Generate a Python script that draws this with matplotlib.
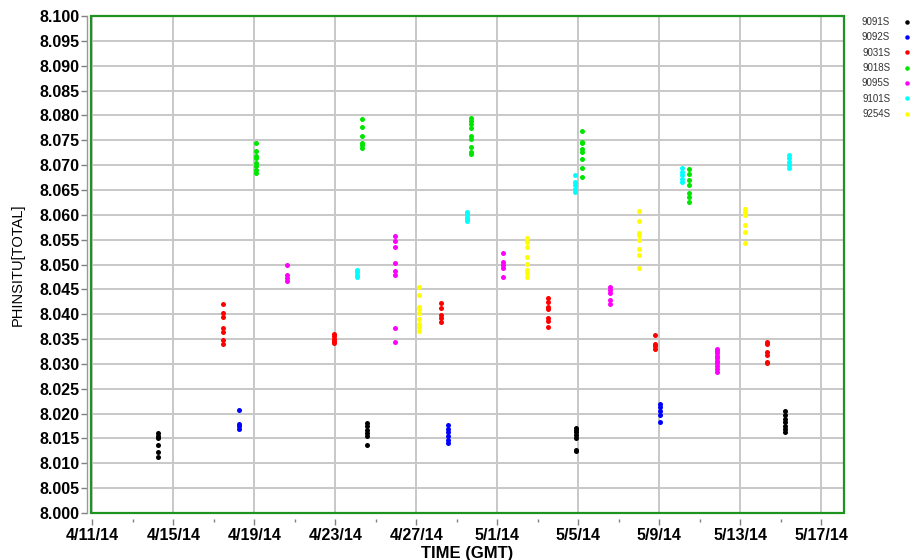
import numpy as np
import matplotlib
matplotlib.use("Agg")
import matplotlib.pyplot as plt
import matplotlib.dates as mdates
from matplotlib.patches import Rectangle
from matplotlib.ticker import FuncFormatter, MultipleLocator

# ── Data (one time per sampling visit) ────────────────────────────────

stations = ["9091S", "9092S", "9031S", "9018S", "9095S", "9101S", "9254S"]
colours  = ["#000000", "#0000ff", "#ff0000", "#00e600",
            "#ff00ff", "#00ffff", "#ffff00"]

t_9091S = ["2014-04-14T06:00", "2014-04-24T14:00",
           "2014-05-04T21:00", "2014-05-15T05:00"]
v_9091S = [[8.0160, 8.0155, 8.0150, 8.0137, 8.0123, 8.0112],
           [8.0182, 8.0175, 8.0168, 8.0162, 8.0155, 8.0137],
           [8.0172, 8.0167, 8.0164, 8.0157, 8.0150, 8.0127, 8.0124],
           [8.0206, 8.0197, 8.0190, 8.0183, 8.0176, 8.0170, 8.0164]]

t_9092S = ["2014-04-18T06:00", "2014-04-28T14:00", "2014-05-09T01:00"]
v_9092S = [[8.0207, 8.0180, 8.0175, 8.0170],
           [8.0177, 8.0170, 8.0164, 8.0155, 8.0147, 8.0140],
           [8.0219, 8.0213, 8.0206, 8.0197, 8.0184]]

t_9031S = ["2014-04-17T11:00", "2014-04-22T22:00", "2014-04-28T05:00",
           "2014-05-03T12:00", "2014-05-08T19:00", "2014-05-14T08:00"]
v_9031S = [[8.0420, 8.0403, 8.0395, 8.0372, 8.0365, 8.0348, 8.0341],
           [8.0361, 8.0356, 8.0351, 8.0346, 8.0342],
           [8.0422, 8.0412, 8.0398, 8.0392, 8.0385],
           [8.0432, 8.0425, 8.0415, 8.0410, 8.0392, 8.0386, 8.0375],
           [8.0358, 8.0341, 8.0336, 8.0330],
           [8.0345, 8.0341, 8.0323, 8.0318, 8.0304, 8.0301]]

t_9018S = ["2014-04-19T02:00", "2014-04-24T08:00", "2014-04-29T17:00",
           "2014-05-05T04:00", "2014-05-10T11:30"]
v_9018S = [[8.0744, 8.0729, 8.0718, 8.0714, 8.0704, 8.0698, 8.0690, 8.0684],
           [8.0792, 8.0776, 8.0759, 8.0745, 8.0740, 8.0734],
           [8.0794, 8.0789, 8.0783, 8.0774, 8.0759, 8.0752, 8.0737,
            8.0727, 8.0722],
           [8.0769, 8.0747, 8.0744, 8.0732, 8.0726, 8.0712, 8.0695, 8.0677],
           [8.0692, 8.0682, 8.0670, 8.0660, 8.0643, 8.0636, 8.0626]]

t_9095S = ["2014-04-20T15:00", "2014-04-25T23:00", "2014-05-01T06:30",
           "2014-05-06T13:30", "2014-05-11T21:00"]
v_9095S = [[8.0500, 8.0479, 8.0472, 8.0467],
           [8.0558, 8.0547, 8.0536, 8.0504, 8.0486, 8.0479, 8.0373, 8.0345],
           [8.0523, 8.0506, 8.0499, 8.0492, 8.0474],
           [8.0454, 8.0449, 8.0442, 8.0429, 8.0421],
           [8.0331, 8.0326, 8.0321, 8.0316, 8.0311, 8.0306, 8.0301,
            8.0296, 8.0290, 8.0284]]

t_9101S = ["2014-04-24T02:00", "2014-04-29T12:00", "2014-05-04T20:00",
           "2014-05-10T03:30", "2014-05-15T10:00"]
v_9101S = [[8.0489, 8.0484, 8.0479, 8.0475],
           [8.0606, 8.0601, 8.0596, 8.0591, 8.0588],
           [8.0680, 8.0667, 8.0660, 8.0652, 8.0645],
           [8.0695, 8.0687, 8.0680, 8.0673, 8.0666],
           [8.0720, 8.0714, 8.0707, 8.0700, 8.0694]]

t_9254S = ["2014-04-27T03:30", "2014-05-02T11:30",
           "2014-05-08T00:00", "2014-05-13T05:30"]
v_9254S = [[8.0455, 8.0439, 8.0415, 8.0410, 8.0402, 8.0390, 8.0380,
            8.0375, 8.0366],
           [8.0553, 8.0546, 8.0536, 8.0516, 8.0501, 8.0489, 8.0482, 8.0475],
           [8.0608, 8.0588, 8.0564, 8.0559, 8.0549, 8.0531, 8.0519, 8.0492],
           [8.0612, 8.0605, 8.0600, 8.0580, 8.0565, 8.0544]]

times  = [t_9091S, t_9092S, t_9031S, t_9018S, t_9095S, t_9101S, t_9254S]
values = [v_9091S, v_9092S, v_9031S, v_9018S, v_9095S, v_9101S, v_9254S]

# ── Figure ────────────────────────────────────────────────────────────

TICK_FONT = "Liberation Sans"
FRAME_GREEN = "#1f931f"
GRID_GREY = "#c8c8c8"

fig = plt.figure(figsize=(9.11, 5.60), dpi=100)
ax = fig.add_axes([0.0996, 0.0839, 0.8272, 0.8875])

for name, col, tt, vv in zip(stations, colours, times, values):
    xs, ys = [], []
    for t, vals in zip(tt, vv):
        xs += [np.datetime64(t)] * len(vals)
        ys += vals
    ax.plot(np.array(xs, dtype="datetime64[m]"), ys, "o", color=col,
            markersize=3.6, markeredgewidth=0, label=name, zorder=3)

# axes range and ticks
x0 = np.datetime64("2014-04-11T00:00")
ax.set_xlim(x0 - np.timedelta64(115, "m"), x0 + np.timedelta64(53480, "m"))
ax.set_ylim(8.000, 8.100)

ax.set_xticks(np.arange(x0, x0 + np.timedelta64(37, "D"),
                        np.timedelta64(4, "D")))
ax.set_xticks(np.arange(x0 + np.timedelta64(2, "D"),
                        x0 + np.timedelta64(37, "D"),
                        np.timedelta64(4, "D")), minor=True)
ax.xaxis.set_major_formatter(FuncFormatter(
    lambda v, _: (lambda d: f"{d.month}/{d.day}/{d.year % 100:02d}")(
        mdates.num2date(v))))
ax.yaxis.set_major_locator(MultipleLocator(0.005))
ax.yaxis.set_major_formatter(FuncFormatter(lambda v, _: f"{v:.3f}"))

ax.grid(True, which="major", color=GRID_GREY, lw=1.4, zorder=0)
ax.set_axisbelow(True)

for side in ("top", "right"):
    ax.spines[side].set_visible(False)
ax.spines["left"].set_position(("outward", 3))
ax.spines["left"].set_color("#9a9a9a")
ax.spines["left"].set_linewidth(1.0)
ax.spines["bottom"].set_position(("outward", 4))
ax.spines["bottom"].set_color("none")

ax.tick_params(axis="both", which="major", colors="#808080",
               length=4.5, width=1.0)
ax.tick_params(axis="x", which="minor", colors="#808080",
               length=2.5, width=1.0)
for lab in ax.get_xticklabels() + ax.get_yticklabels():
    lab.set_fontfamily(TICK_FONT)
    lab.set_fontweight("bold")
    lab.set_fontsize(11.5)
    lab.set_color("black")
ax.tick_params(axis="x", pad=2)
ax.tick_params(axis="y", pad=0.5)

# green plot frame
ax.add_patch(Rectangle((0, 0), 1, 1, transform=ax.transAxes, fill=False,
                       edgecolor=FRAME_GREEN, lw=1.6, clip_on=False,
                       zorder=4))

ax.set_xlabel("TIME (GMT)", fontfamily=TICK_FONT, fontweight="bold",
              fontsize=12)
ax.xaxis.set_label_coords(0.5, -0.066)
ax.set_ylabel("PHINSITU[TOTAL]", fontfamily=TICK_FONT, fontsize=10.5)
ax.yaxis.set_label_coords(-0.087, 0.5)

ax.legend(loc="upper left", bbox_to_anchor=(862 / 911, 1 - 17 / 560),
          bbox_transform=fig.transFigure, frameon=False, markerfirst=False,
          prop={"family": TICK_FONT, "size": 7}, labelcolor="#333333",
          handlelength=0.6, handletextpad=1.4, labelspacing=0.55,
          borderpad=0, borderaxespad=0, markerscale=0.9)

fig.savefig("out.png", dpi=100)
